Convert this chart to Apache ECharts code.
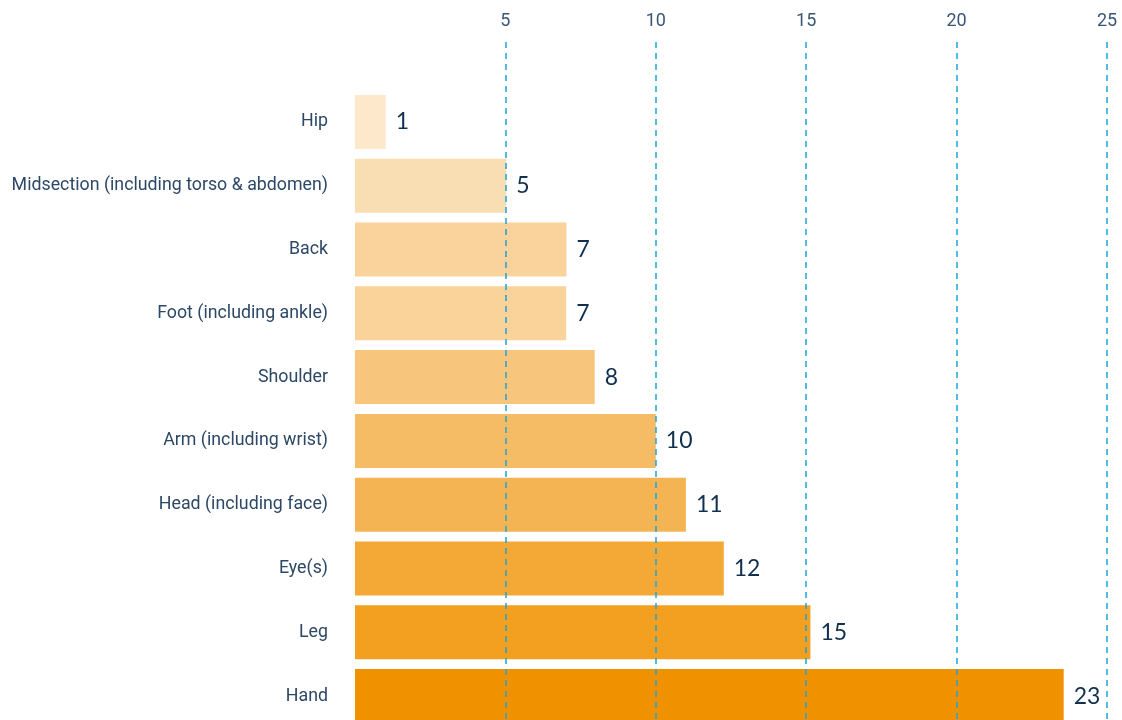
<!DOCTYPE html>
<html>
<head>
<meta charset="utf-8">
<script src="https://cdn.jsdelivr.net/npm/echarts@6/dist/echarts.min.js"></script>
<style>
  html, body { margin: 0; padding: 0; background: #fff; }
  #chart-container { width: 1122px; height: 720px; }
</style>
</head>
<body>
<div id="chart-container"></div>
<script>
// 数据
const categories = ['Hip', 'Midsection (including torso & abdomen)', 'Back', 'Foot (including ankle)',
  'Shoulder', 'Arm (including wrist)', 'Head (including face)', 'Eye(s)', 'Leg', 'Hand'];
const values = [1.02, 5.03, 7.03, 7.02, 7.97, 10.0, 11.0, 12.26, 15.14, 23.56];
const valueLabels = ['1', '5', '7', '7', '8', '10', '11', '12', '15', '23'];
const tickValues = [5, 10, 15, 20, 25];

// 颜色
const barColors = ['#fde8cc', '#fadeb3', '#f9d39b', '#f9d39a', '#f7c67c',
  '#f6bc65', '#f5b453', '#f4a836', '#f39f1f', '#f09200'];

const chartOption = {
  animation: false,
  grid: [
    { left: 355, right: 15, top: 40, height: 690, outerBoundsMode: 'none' },
    { left: 355, right: 15, top: 90, height: 638, outerBoundsMode: 'none' }
  ],
  xAxis: [{
      gridIndex: 0,
      type: 'value',
      position: 'top',
      min: 0,
      max: 25,
      interval: 5,
      axisLine: { show: false },
      axisTick: { show: false },
      axisLabel: {
        margin: 10,
        color: '#3a5675',
        fontSize: 18,
        fontFamily: 'Roboto',
        formatter: v => tickValues.includes(v) ? String(v) : ''
      },
      splitLine: { show: false }
    },
    {
      gridIndex: 1,
      type: 'value',
      min: 0,
      max: 25,
      show: false,
      splitLine: { show: false }
    }
  ],
  yAxis: [{
      gridIndex: 0,
      type: 'value',
      min: 0,
      max: 1,
      show: false
    },
    {
      gridIndex: 1,
      type: 'category',
      inverse: true,
      data: categories,
      axisLine: { show: false },
      axisTick: { show: false },
      axisLabel: {
        margin: 27,
        color: '#2c4866',
        fontSize: 17.8,
        fontFamily: 'Roboto'
      }
    }
  ],
  series: [{
      type: 'bar',
      xAxisIndex: 1,
      yAxisIndex: 1,
      barWidth: 54,
      data: values.map((v, i) => ({ value: v, itemStyle: { color: barColors[i] } })),
      label: {
        show: true,
        position: 'right',
        distance: 10,
        color: '#11304f',
        fontSize: 23,
        fontFamily: 'Lato',
        formatter: p => valueLabels[p.dataIndex]
      }
    },
    {
      // 虚线网格（画在柱子上面）
      type: 'line',
      xAxisIndex: 0,
      yAxisIndex: 0,
      z: 10,
      data: [],
      markLine: {
        silent: true,
        symbol: 'none',
        label: { show: false },
        lineStyle: { color: '#1aa5d8', width: 1.5, type: [6, 5] },
        data: tickValues.map(v => ({ xAxis: v }))
      }
    }
  ]
};

const chart = echarts.init(document.getElementById('chart-container'));
chart.setOption(chartOption);
</script>
</body>
</html>
